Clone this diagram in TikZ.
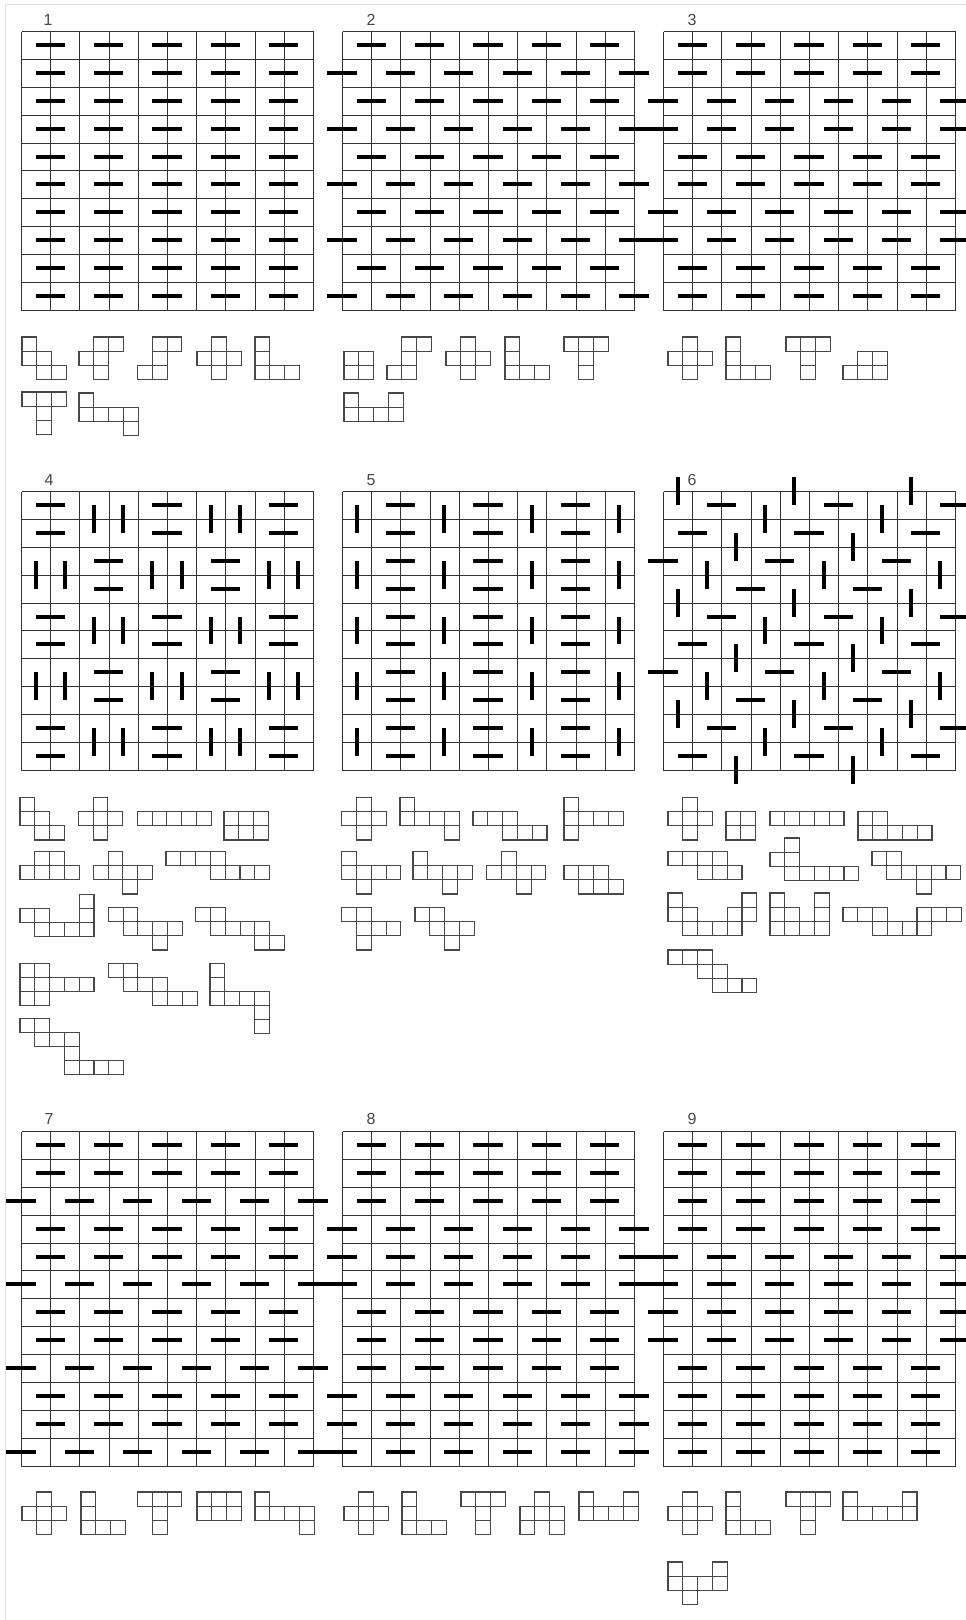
\documentclass[tikz,border=0pt]{standalone}
\usepackage{fontspec}
\setmainfont{Liberation Sans}
\begin{document}
\begin{tikzpicture}[x=1pt,y=-1pt,
  gridline/.style={line width=1.3pt, draw=black!80},
  barline/.style={line width=4pt, draw=black},
  piece/.style={line width=1.1pt, draw=black!72},
  frameline/.style={line width=1pt, draw=black!12},
  lbl/.style={font=\fontsize{16}{16}\selectfont, text=black!72, inner sep=0pt}]
\def\CW{29.2}\def\CH{27.9}\def\SW{14.8}\def\SH{14.1}
\def\Xp{1/0,0/1,1/1,2/1,1/2}
\def\Vp{0/0,0/1,0/2,1/2,2/2}
\def\Tp{0/0,1/0,2/0,1/1,1/2}
\def\Wp{0/0,0/1,1/1,1/2,2/2}
\newcommand{\DrawGrid}[1]{%
  \pgfmathsetmacro{\gb}{round(#1*\CH)+0.5}%
  \foreach \i in {0,...,10} {\pgfmathsetmacro{\gx}{round(\i*\CW)+0.5}%
    \draw[gridline] (\gx,0.5) -- (\gx,\gb);}
  \foreach \j in {0,...,#1} {\pgfmathsetmacro{\gy}{round(\j*\CH)+0.5}%
    \draw[gridline] (0.5,\gy) -- (292.5,\gy);}}
\newcommand{\HB}[2]{\pgfmathsetmacro{\ba}{round((#2+0.5)*\CW)}%
  \pgfmathsetmacro{\bb}{round((#2+1.5)*\CW)}\pgfmathsetmacro{\by}{round((#1+0.5)*\CH)}%
  \draw[barline] (\ba,\by) -- (\bb,\by);}
\newcommand{\VB}[2]{\pgfmathsetmacro{\bx}{round((#2+0.5)*\CW)}%
  \pgfmathsetmacro{\ba}{round((#1+0.5)*\CH)}\pgfmathsetmacro{\bb}{round((#1+1.5)*\CH)}%
  \draw[barline] (\bx,\ba) -- (\bx,\bb);}
\newcommand{\NRow}[1]{\foreach \c in {0,2,4,6,8} {\HB{#1}{\c}}}
\newcommand{\SRow}[1]{\foreach \c in {-1,1,3,5,7,9} {\HB{#1}{\c}}}
\newcommand{\PC}[3]{\foreach \a/\b in {#3} {\draw[piece] ({#1+\a*\SW},{#2+\b*\SH}) rectangle ++(\SW,\SH);}}
\newcommand{\PM}[3]{\foreach \a/\b in #3 {\draw[piece] ({#1+\a*\SW},{#2+\b*\SH}) rectangle ++(\SW,\SH);}}
\useasboundingbox (0,0) rectangle (966,1620);
\fill[white] (0,0) rectangle (966,1620);
\draw[frameline] (5,1620) -- (5,4) -- (966,4);
% labels
\node[lbl] (l1) at (48,20) {1};
\node[lbl] (l2) at (371,20) {2};
\node[lbl] (l3) at (692,20) {3};
\node[lbl] (l4) at (49,480) {4};
\node[lbl] (l5) at (371,480) {5};
\node[lbl] (l6) at (692,480) {6};
\node[lbl] (l7) at (49,1119) {7};
\node[lbl] (l8) at (371,1119) {8};
\node[lbl] (l9) at (692,1119) {9};
% grid 1
\begin{scope}[shift={(21,31)}]
\DrawGrid{10}
\foreach \r in {0,...,9} {\NRow{\r}}
\end{scope}
% grid 2
\begin{scope}[shift={(342,31)}]
\DrawGrid{10}
\foreach \r in {0,2,4,6,8} {\NRow{\r}}
\foreach \r in {1,3,5,7,9} {\SRow{\r}}
\end{scope}
% grid 3
\begin{scope}[shift={(663,31)}]
\DrawGrid{10}
\foreach \r in {0,1,4,5,8,9} {\NRow{\r}}
\foreach \r in {2,3,6,7} {\SRow{\r}}
\end{scope}
% grid 4
\begin{scope}[shift={(21,491)}]
\DrawGrid{10}
\foreach \bi in {0,...,4} {\foreach \bj in {0,...,4} {%
  \pgfmathtruncatemacro{\pty}{mod(\bi+\bj,2)}%
  \pgfmathtruncatemacro{\ra}{2*\bi}\pgfmathtruncatemacro{\rb}{2*\bi+1}%
  \pgfmathtruncatemacro{\ca}{2*\bj}\pgfmathtruncatemacro{\cb}{2*\bj+1}%
  \ifnum\pty=0 \HB{\ra}{\ca}\HB{\rb}{\ca}\else \VB{\ra}{\ca}\VB{\ra}{\cb}\fi}}
\end{scope}
% grid 5
\begin{scope}[shift={(342,491)}]
\DrawGrid{10}
\foreach \r in {0,...,9} {\foreach \c in {1,4,7} {\HB{\r}{\c}}}
\foreach \r in {0,2,4,6,8} {\foreach \c in {0,3,6,9} {\VB{\r}{\c}}}
\end{scope}
% grid 6
\begin{scope}[shift={(663,491)}]
\DrawGrid{10}
\foreach \r in {0,...,9} {\foreach \c in {-1,...,9} {%
  \pgfmathtruncatemacro{\m}{mod(\c+\r+7,4)}\ifnum\m=0 \HB{\r}{\c}\fi}}
\foreach \c in {0,...,9} {\foreach \r in {-1,...,9} {%
  \pgfmathtruncatemacro{\m}{mod(\c+\r+5,4)}\ifnum\m=0 \VB{\r}{\c}\fi}}
\end{scope}
% grid 7
\begin{scope}[shift={(21,1131)}]
\DrawGrid{12}
\foreach \r in {0,1,3,4,6,7,9,10} {\NRow{\r}}
\foreach \r in {2,5,8,11} {\SRow{\r}}
\end{scope}
% grid 8
\begin{scope}[shift={(342,1131)}]
\DrawGrid{12}
\foreach \r in {0,1,2,6,7,8} {\NRow{\r}}
\foreach \r in {3,4,5,9,10,11} {\SRow{\r}}
\end{scope}
% grid 9
\begin{scope}[shift={(663,1131)}]
\DrawGrid{12}
\foreach \r in {0,1,2,3,8,9,10,11} {\NRow{\r}}
\foreach \r in {4,5,6,7} {\SRow{\r}}
\end{scope}
% pieces grid 1
\PM{22}{337}{\Wp}
\PC{79}{337}{1/0,2/0,0/1,1/1,1/2}
\PC{137.5}{337}{1/0,2/0,1/1,0/2,1/2}
\PM{197}{337}{\Xp}
\PM{255}{337}{\Vp}
\PM{22}{392}{\Tp}
\PC{79}{393}{0/0,0/1,1/1,2/1,3/1,3/2}
% pieces grid 2
\PC{344}{337}{0/1,1/1,0/2,1/2}
\PC{387}{337}{1/0,2/0,1/1,0/2,1/2}
\PM{446}{337}{\Xp}
\PM{505}{337}{\Vp}
\PM{564}{337}{\Tp}
\PC{344}{393}{0/0,3/0,0/1,1/1,2/1,3/1}
% pieces grid 3
\PM{668}{337}{\Xp}
\PM{726}{337}{\Vp}
\PM{786}{337}{\Tp}
\PC{843}{337}{1/1,2/1,0/2,1/2,2/2}
% pieces grid 4
\PM{20}{797.7}{\Wp}
\PM{78.3}{797.7}{\Xp}
\PC{137.3}{797.7}{0/1,1/1,2/1,3/1,4/1}
\PC{224}{797.7}{0/1,1/1,2/1,0/2,1/2,2/2}
\PC{20}{851.7}{1/0,2/0,0/1,1/1,2/1,3/1}
\PC{93.3}{851.7}{1/0,0/1,1/1,2/1,3/1,2/2}
\PC{166}{851.7}{0/0,1/0,2/0,3/0,3/1,4/1,5/1,6/1}
\PC{20}{894.3}{4/0,0/1,1/1,4/1,1/2,2/2,3/2,4/2}
\PC{108.3}{907.7}{0/0,1/0,1/1,2/1,3/1,4/1,3/2}
\PC{195.7}{907.7}{0/0,1/0,1/1,2/1,3/1,4/1,4/2,5/2}
\PC{20}{963.3}{0/0,1/0,0/1,1/1,2/1,3/1,4/1,0/2,1/2}
\PC{108.3}{963.3}{0/0,1/0,1/1,2/1,3/1,3/2,4/2,5/2}
\PC{210}{963.3}{0/0,0/1,0/2,1/2,2/2,3/2,3/3,3/4}
\PC{20}{1018.3}{0/0,1/0,1/1,2/1,3/1,3/2,3/3,4/3,5/3,6/3}
% pieces grid 5
\PM{341.7}{797.7}{\Xp}
\PC{400}{797.7}{0/0,0/1,1/1,2/1,3/1,3/2}
\PC{473}{797.7}{0/1,1/1,2/1,2/2,3/2,4/2}
\PC{564}{797.7}{0/0,0/1,1/1,2/1,3/1,0/2}
\PC{341.7}{851.7}{0/0,0/1,1/1,2/1,3/1,1/2}
\PC{413}{851.7}{0/0,0/1,1/1,2/1,3/1,2/2}
\PC{486.7}{851.7}{1/0,0/1,1/1,2/1,3/1,2/2}
\PC{564}{865.8}{0/0,1/0,2/0,1/1,2/1,3/1}
\PC{341.7}{907.7}{0/0,1/0,1/1,2/1,3/1,1/2}
\PC{415}{907.7}{0/0,1/0,1/1,2/1,3/1,2/2}
% pieces grid 6
\PM{668}{797.7}{\Xp}
\PC{726}{797.7}{0/1,1/1,0/2,1/2}
\PC{770}{797.7}{0/1,1/1,2/1,3/1,4/1}
\PC{858}{797.7}{0/1,1/1,0/2,1/2,2/2,3/2,4/2}
\PC{668}{851.7}{0/0,1/0,2/0,3/0,2/1,3/1,4/1}
\PC{770}{838}{1/0,0/1,1/1,1/2,2/2,3/2,4/2,5/2}
\PC{872}{851.7}{0/0,1/0,1/1,2/1,3/1,4/1,5/1,3/2}
\PC{668}{893}{0/0,0/1,1/1,1/2,2/2,3/2,4/2,4/1,5/1,5/0}
\PC{770}{893}{0/0,0/1,1/1,0/2,1/2,2/2,3/2,3/1,3/0}
\PC{843}{893}{0/1,1/1,2/1,2/2,3/2,4/2,5/2,5/1,6/1,7/1}
\PC{668}{950}{0/0,1/0,2/0,2/1,3/1,3/2,4/2,5/2}
% pieces grids 7-9
\PM{22}{1492}{\Xp}
\PM{81}{1492}{\Vp}
\PM{137.5}{1492}{\Tp}
\PC{197}{1492}{0/0,1/0,2/0,0/1,1/1,2/1}
\PC{255}{1492}{0/0,0/1,1/1,2/1,3/1,3/2}
\PM{344}{1492}{\Xp}
\PM{402}{1492}{\Vp}
\PM{461}{1492}{\Tp}
\PC{520}{1492}{1/0,0/1,1/1,2/1,0/2,2/2}
\PC{579}{1492}{0/0,3/0,0/1,1/1,2/1,3/1}
\PM{668}{1492}{\Xp}
\PM{726}{1492}{\Vp}
\PM{786}{1492}{\Tp}
\PC{843}{1492}{0/0,4/0,0/1,1/1,2/1,3/1,4/1}
\PC{668}{1562}{0/0,3/0,0/1,1/1,2/1,3/1,1/2}
\end{tikzpicture}
\end{document}
